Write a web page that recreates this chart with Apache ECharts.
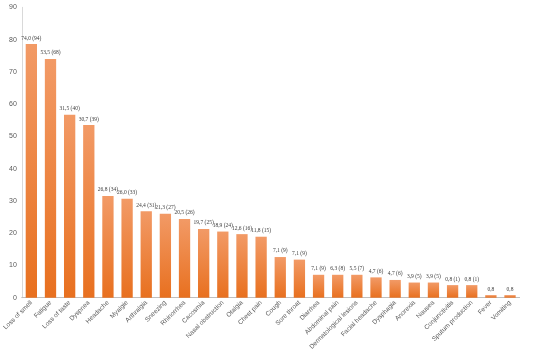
<!DOCTYPE html>
<html><head><meta charset="utf-8">
<script src="https://cdn.jsdelivr.net/npm/echarts@6/dist/echarts.min.js"></script>
<style>html,body{margin:0;padding:0;background:#fff}#c{width:550px;height:353px}</style>
</head><body><div id="c"></div>
<script>
const categories = ["Loss of smell","Fatigue","Loss of taste","Dyspnea","Headache","Myalgie","Arthralgia","Sneezing","Rhinorrhea","Cacosmia","Nasal obstruction","Otalgia","Chest pain","Cough","Sore throat","Diarrhea","Abdominal pain","Dermatological lesions","Facial headache","Dysphagia","Anorexia","Nausea","Conjunctivitis","Sputum production","Fever","Vomiting"];
const values = [78.6,74.0,56.7,53.5,31.5,30.7,26.8,26.0,24.4,21.3,20.5,19.7,18.9,12.6,11.8,7.1,7.1,7.1,6.3,5.5,4.7,4.7,3.9,3.9,0.8,0.8];
const barLabels = ["74,0 (94)","53,5 (68)","31,5 (40)","30,7 (39)","26,8 (34)","26,0 (33)","24,4 (31)","21,3 (27)","20,5 (26)","19,7 (25)","18,9 (24)","12,6 (16)","11,8 (15)","7,1 (9)","7,1 (9)","7,1 (9)","6,3 (8)","5,5 (7)","4,7 (6)","4,7 (6)","3,9 (5)","3,9 (5)","0,8 (1)","0,8 (1)","0,8","0,8"];
const yTicks = {min:0, max:90, interval:10};

const chart = echarts.init(document.getElementById('c'));
chart.setOption({
  animation:false,
  grid:{left:18.4, right:30.4, top:7.3, bottom:55.3, containLabel:false},
  xAxis:{type:'category', data:categories,
    axisLine:{lineStyle:{color:'#BFBFBF'}}, axisTick:{show:false},
    axisLabel:{rotate:45, interval:0, fontSize:6.5, color:'#595959', fontFamily:'Liberation Sans', margin:4}},
  yAxis:{type:'value', min:yTicks.min, max:yTicks.max, interval:yTicks.interval,
    axisLine:{show:true, lineStyle:{color:'#D9D9D9'}}, axisTick:{show:false}, splitLine:{show:false},
    axisLabel:{fontSize:7, color:'#595959', fontFamily:'Liberation Sans', margin:5}},
  series:[{type:'bar', data:values, barWidth:'59%',
    itemStyle:{color:new echarts.graphic.LinearGradient(0,0,0,1,[{offset:0,color:'#F29A66'},{offset:1,color:'#E8701F'}])},
    label:{show:true, position:'top', distance:3, fontSize:5.5, color:'#404040', fontFamily:'Liberation Sans Narrow',
      formatter:p=>barLabels[p.dataIndex]}}]
});
</script></body></html>
